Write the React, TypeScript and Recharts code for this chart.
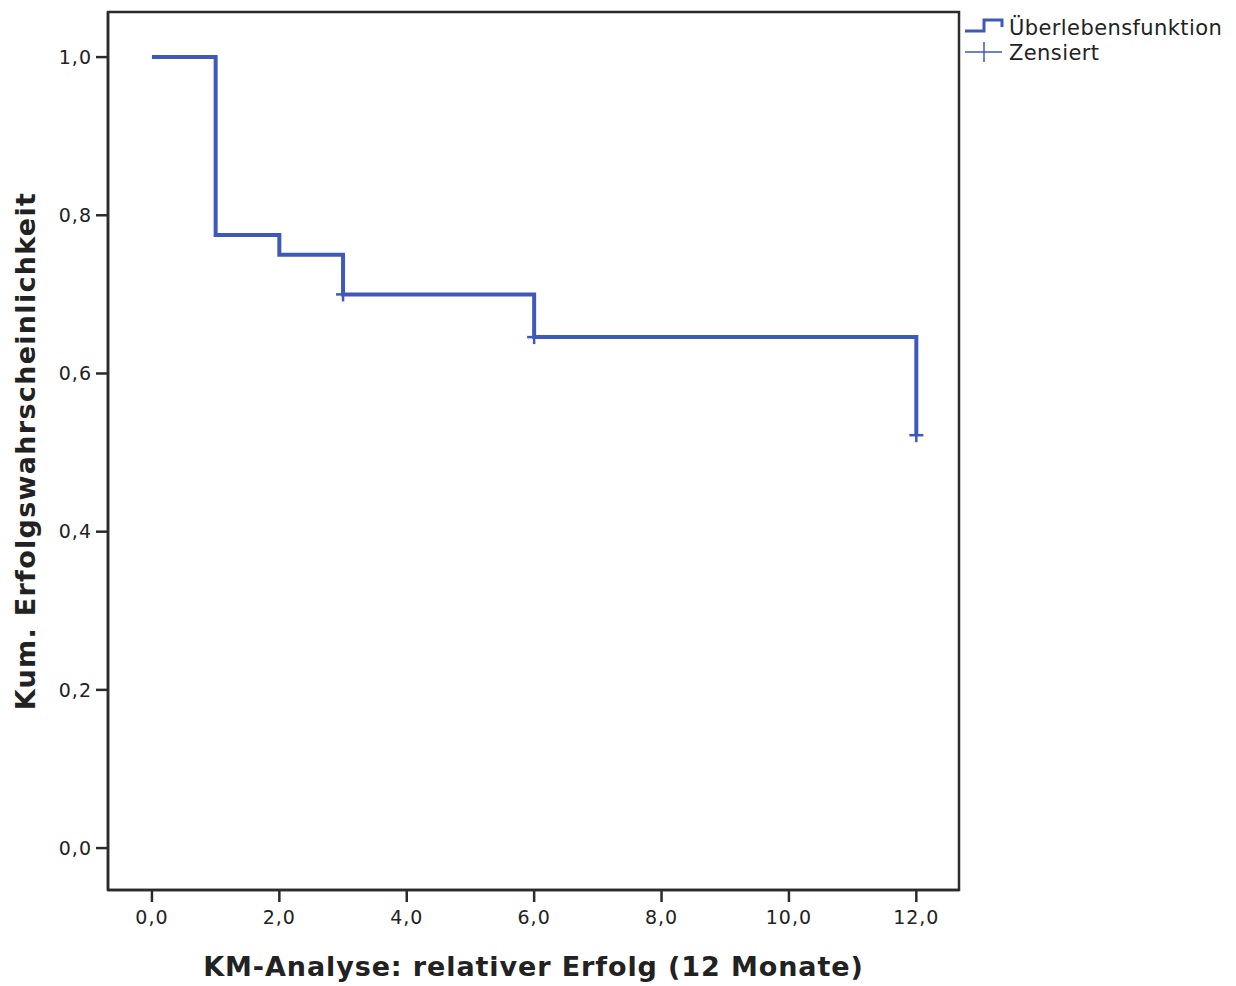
import React from "react";
import { ComposedChart, Line, Scatter, XAxis, YAxis, ReferenceArea } from "recharts";

const survival = [
  { t: 0, s: 1.0 },
  { t: 1, s: 0.775 },
  { t: 2, s: 0.75 },
  { t: 3, s: 0.7 },
  { t: 6, s: 0.646 },
  { t: 12, s: 0.522 },
];
const censored = [
  { t: 3, s: 0.7 },
  { t: 6, s: 0.646 },
  { t: 12, s: 0.522 },
];
const xTicks = [0, 2, 4, 6, 8, 10, 12];
const yTicks = [0, 0.2, 0.4, 0.6, 0.8, 1.0];
const xDomain: [number, number] = [-0.69, 12.67];
const yDomain: [number, number] = [-0.053, 1.057];

const BLUE = "#3d59bb";
const AXIS = "#2b2b2b";
const FONT = "'DejaVu Sans', sans-serif";

const fmt = (v: number) => v.toFixed(1).replace(".", ",");

const Plus = (props: any) => {
  const { cx, cy } = props;
  if (cx == null || cy == null) return null;
  return (
    <g>
      <line x1={cx - 7} y1={cy} x2={cx + 7} y2={cy} stroke={BLUE} strokeWidth={2.5} />
      <line x1={cx} y1={cy - 7} x2={cx} y2={cy + 7} stroke={BLUE} strokeWidth={2.5} />
    </g>
  );
};

const LegendBox = () => (
  <svg width={272} height={60} style={{ position: "absolute", left: 962, top: 12, overflow: "visible" }}>
    <path d="M3 19 H22 V8 H40 V15" fill="none" stroke={BLUE} strokeWidth={3} />
    <text x={47} y={23} fontFamily={FONT} fontSize={21} letterSpacing={0.4} fill="#222">Überlebensfunktion</text>
    <line x1={3} y1={40} x2={40} y2={40} stroke={BLUE} strokeWidth={1.5} />
    <line x1={22} y1={30} x2={22} y2={50} stroke={BLUE} strokeWidth={1.5} />
    <text x={47} y={48} fontFamily={FONT} fontSize={21} letterSpacing={0.4} fill="#222">Zensiert</text>
  </svg>
);

export default function App() {
  return (
    <div style={{ position: "absolute", left: 0, top: 0, width: 1236, height: 986, background: "#fff" }}>
      <ComposedChart
        width={1236}
        height={986}
        margin={{ top: 12, right: 277, bottom: 46, left: 40 }}
      >
        <XAxis
          xAxisId="b"
          type="number"
          dataKey="t"
          domain={xDomain}
          ticks={xTicks}
          allowDataOverflow
          tickFormatter={fmt}
          height={50}
          axisLine={{ stroke: AXIS, strokeWidth: 2.5 }}
          tickLine={{ stroke: AXIS, strokeWidth: 2.5 }}
          tickSize={12}
          tickMargin={9}
          tick={{ fill: "#222", fontSize: 19, letterSpacing: 1, fontFamily: FONT }}
          label={{ value: "KM-Analyse: relativer Erfolg (12 Monate)", position: "insideBottom", offset: -36, fill: "#222", fontSize: 27, letterSpacing: 0.9, fontWeight: "bold", fontFamily: FONT }}
        />
        <YAxis
          yAxisId="l"
          type="number"
          dataKey="s"
          domain={yDomain}
          ticks={yTicks}
          allowDataOverflow
          tickFormatter={fmt}
          width={68}
          axisLine={{ stroke: AXIS, strokeWidth: 2.5 }}
          tickLine={{ stroke: AXIS, strokeWidth: 2.5 }}
          tickSize={12}
          tickMargin={4}
          tick={{ fill: "#222", fontSize: 19, letterSpacing: 1, fontFamily: FONT }}
          label={{ value: "Kum. Erfolgswahrscheinlichkeit", angle: -90, position: "insideLeft", offset: -15, style: { textAnchor: "middle" }, fill: "#222", fontSize: 27, letterSpacing: 1.3, fontWeight: "bold", fontFamily: FONT }}
        />
        <ReferenceArea
          xAxisId="b"
          yAxisId="l"
          x1={xDomain[0]}
          x2={xDomain[1]}
          y1={yDomain[0]}
          y2={yDomain[1]}
          fill="none"
          stroke={AXIS}
          strokeWidth={2.5}
          ifOverflow="extendDomain"
        />
        <Line
          xAxisId="b"
          yAxisId="l"
          data={survival}
          dataKey="s"
          type="stepAfter"
          stroke={BLUE}
          strokeWidth={4}
          dot={false}
          activeDot={false}
          isAnimationActive={false}
        />
        <Scatter
          xAxisId="b"
          yAxisId="l"
          data={censored}
          dataKey="s"
          shape={<Plus />}
          isAnimationActive={false}
        />
      </ComposedChart>
      <LegendBox />
    </div>
  );
}
